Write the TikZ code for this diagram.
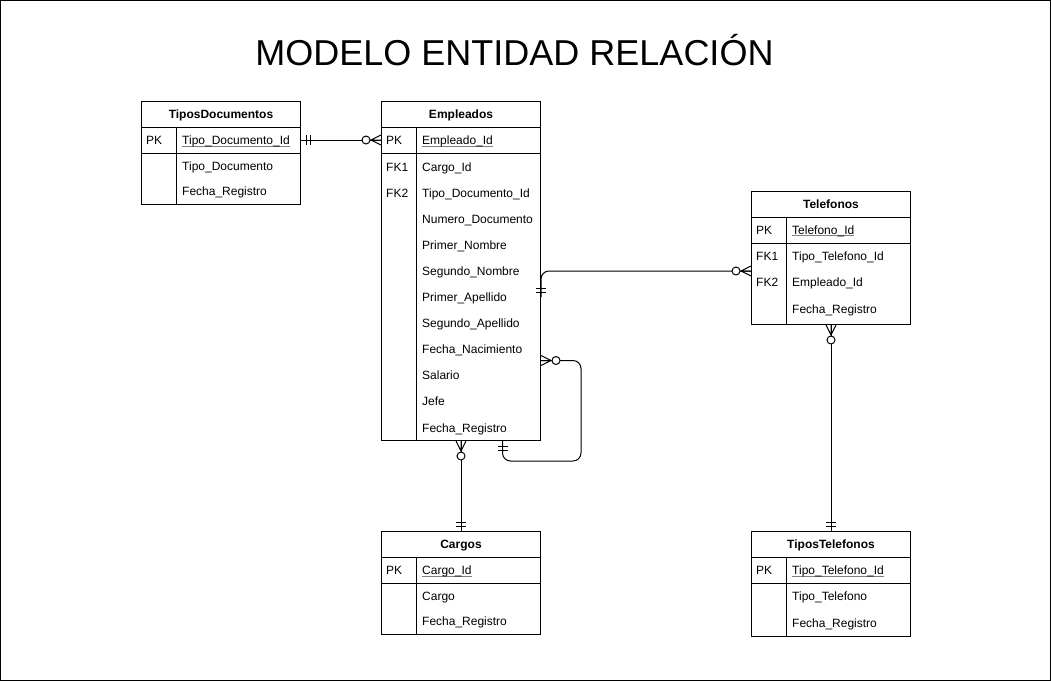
\documentclass[tikz,border=0pt]{standalone}
\usepackage{fontspec}
\setmainfont{Liberation Sans}
\usetikzlibrary{positioning}

\newcommand\keyfield[1]{\setbox0\hbox{#1}\rlap{\color{gray}\rule[-1.8pt]{\wd0}{0.7pt}}\box0}

\begin{document}
\begin{tikzpicture}[
    x=1pt, y=-1pt,
    every node/.style={font=\fontsize{12}{14}\selectfont, inner sep=0pt},
    entity/.style={draw, anchor=north west, minimum width=159pt, line width=1pt},
    header/.style={font=\fontsize{12}{14}\selectfont\bfseries, text height=9.5pt, text depth=0.5pt},
    field/.style={anchor=west, text height=9.5pt, text depth=0.5pt},
    rel/.style={line width=1pt},
    one/.pic={\draw[rel] (5,-5) -- (5,5) (9,-5) -- (9,5);},
    many/.pic={\draw[rel] (0,-5) -- (10,0) -- (0,5) (0,0) -- (10,0);
               \draw[rel, fill=white] (15,0) circle (4pt);}
]
\useasboundingbox (0,0) rectangle (1051,681);
\draw[line width=1pt] (0.5,0.5) rectangle (1050.5,680.5);
\node[font=\fontsize{36}{40}\selectfont, anchor=base] (title) at (514.5,65) {MODELO ENTIDAD RELACIÓN};

\node[entity, minimum height=103pt] (tdoc) at (141,101) {};
\node[header] at ([yshift=-13pt]tdoc.north) {TiposDocumentos};
\draw[rel] ([yshift=-26pt]tdoc.north west) -- ([yshift=-26pt]tdoc.north east);
\draw[rel] ([yshift=-52pt]tdoc.north west) -- ([yshift=-52pt]tdoc.north east);
\draw[rel] ([xshift=35pt,yshift=-26pt]tdoc.north west) -- ([xshift=35pt]tdoc.south west);
\node[field] (tdoc-pk) at (146,140) {PK};
\node[field] at (182,140) {\keyfield{Tipo\_Documento\_Id}};
\foreach \f [count=\i] in {Tipo\_Documento, Fecha\_Registro}
  \node[field] (tdoc-\i) at (182,{140+25.5*\i}) {\f};

\node[entity, minimum height=339pt] (emp) at (381,101) {};
\node[header] at ([yshift=-13pt]emp.north) {Empleados};
\draw[rel] ([yshift=-26pt]emp.north west) -- ([yshift=-26pt]emp.north east);
\draw[rel] ([yshift=-52pt]emp.north west) -- ([yshift=-52pt]emp.north east);
\draw[rel] ([xshift=35pt,yshift=-26pt]emp.north west) -- ([xshift=35pt]emp.south west);
\node[field] (emp-pk) at (386,140) {PK};
\node[field] at (422,140) {\keyfield{Empleado\_Id}};
\node[field] at (386,166.5) {FK1};
\node[field] at (386,192.6) {FK2};
\foreach \f [count=\i] in {Cargo\_Id, Tipo\_Documento\_Id, Numero\_Documento, Primer\_Nombre,
    Segundo\_Nombre, Primer\_Apellido, Segundo\_Apellido, Fecha\_Nacimiento, Salario, Jefe, Fecha\_Registro}
  \node[field] (emp-\i) at (422,{166.5+26.1*(\i-1)}) {\f};

\node[entity, minimum height=133pt] (tel) at (751,191) {};
\node[header] at ([yshift=-13pt]tel.north) {Telefonos};
\draw[rel] ([yshift=-26pt]tel.north west) -- ([yshift=-26pt]tel.north east);
\draw[rel] ([yshift=-52pt]tel.north west) -- ([yshift=-52pt]tel.north east);
\draw[rel] ([xshift=35pt,yshift=-26pt]tel.north west) -- ([xshift=35pt]tel.south west);
\node[field] (tel-pk) at (756,229.5) {PK};
\node[field] at (792,229.5) {\keyfield{Telefono\_Id}};
\node[field] at (756,255.7) {FK1};
\node[field] at (756,282.4) {FK2};
\foreach \f [count=\i] in {Tipo\_Telefono\_Id, Empleado\_Id, Fecha\_Registro}
  \node[field] (tel-\i) at (792,{229+26.7*\i}) {\f};

\node[entity, minimum height=103pt] (crg) at (381,531) {};
\node[header] at ([yshift=-13pt]crg.north) {Cargos};
\draw[rel] ([yshift=-26pt]crg.north west) -- ([yshift=-26pt]crg.north east);
\draw[rel] ([yshift=-52pt]crg.north west) -- ([yshift=-52pt]crg.north east);
\draw[rel] ([xshift=35pt,yshift=-26pt]crg.north west) -- ([xshift=35pt]crg.south west);
\node[field] (crg-pk) at (386,570) {PK};
\node[field] at (422,570) {\keyfield{Cargo\_Id}};
\foreach \f [count=\i] in {Cargo, Fecha\_Registro}
  \node[field] (crg-\i) at (422,{570+25.5*\i}) {\f};

\node[entity, minimum height=105pt] (ttel) at (751,531) {};
\node[header] at ([yshift=-13pt]ttel.north) {TiposTelefonos};
\draw[rel] ([yshift=-26pt]ttel.north west) -- ([yshift=-26pt]ttel.north east);
\draw[rel] ([yshift=-52pt]ttel.north west) -- ([yshift=-52pt]ttel.north east);
\draw[rel] ([xshift=35pt,yshift=-26pt]ttel.north west) -- ([xshift=35pt]ttel.south west);
\node[field] (ttel-pk) at (756,570) {PK};
\node[field] at (792,570) {\keyfield{Tipo\_Telefono\_Id}};
\foreach \f [count=\i] in {Tipo\_Telefono, Fecha\_Registro}
  \node[field] (ttel-\i) at (792,{569+27*\i}) {\f};

\draw[rel] (tdoc.east |- tdoc-pk) -- (emp.west |- emp-pk);
\pic at (tdoc.east |- tdoc-pk) {one};
\pic[rotate=180] at (emp.west |- emp-pk) {many};

\draw[rel, rounded corners=8pt] ([yshift=-26pt]emp.east) -- (emp.east) -- (emp.east -| tel.west);
\pic[rotate=90] at ([yshift=-26pt]emp.east) {one};
\pic[rotate=180] at (emp.east -| tel.west) {many};

\coordinate (selfout) at ([yshift=-89.5pt]emp.east);
\coordinate (selfin) at ([xshift=41.5pt]emp.south);
\draw[rel, rounded corners=8pt] (selfout) -- ++(40,0) |- ([yshift=-20pt]selfin) -- (selfin);
\pic at (selfout) {many};
\pic[rotate=-90] at (selfin) {one};

\draw[rel] (emp.south) -- (crg.north);
\pic[rotate=-90] at (emp.south) {many};
\pic[rotate=90] at (crg.north) {one};

\draw[rel] (tel.south) -- (ttel.north);
\pic[rotate=-90] at (tel.south) {many};
\pic[rotate=90] at (ttel.north) {one};
\end{tikzpicture}
\end{document}
